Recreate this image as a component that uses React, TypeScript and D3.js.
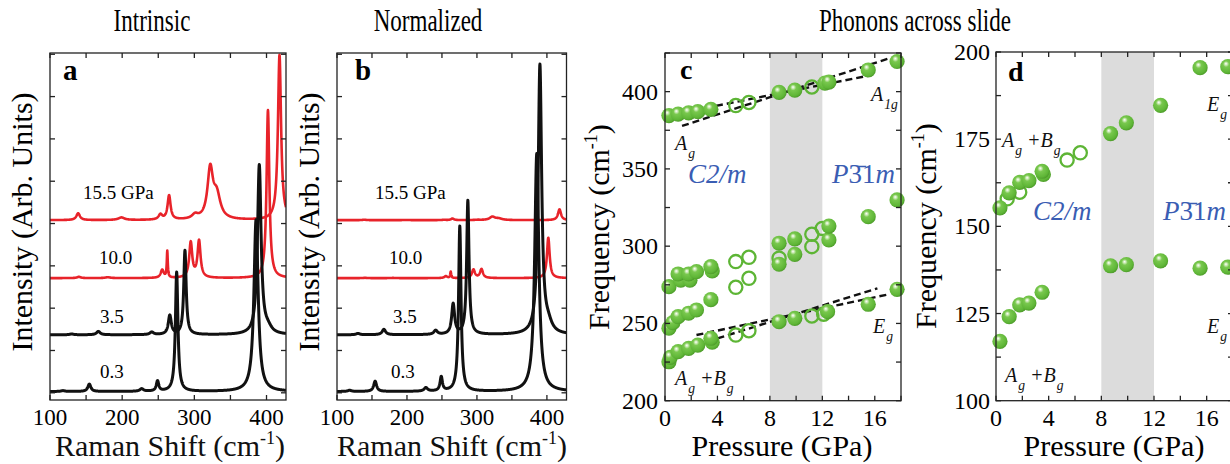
import React from "react";
import * as d3 from "d3";

// ---------------- DATA ----------------
// Raman spectra, read as peak lists: [centre (cm-1), height (arb.), half width (cm-1)]
const spectrumLabels = ["0.3", "3.5", "10.0", "15.5 GPa"];
const spectrumOffsets = [0.03, 1.37, 2.71, 4.08];
const normalizeFactors = [1.385, 1.59, 0.24, 0.065];
const peaks03 = [[118, 0.02, 3], [154.5, 0.175, 2.5], [227, 0.06, 3], [249, 0.24, 2], [275.5, 2.82, 2.1], [385.5, 4.06, 3.5]];
const peaks35 = [[130, 0.02, 3], [167, 0.08, 3], [241, 0.06, 3], [266, 0.45, 2.5], [287, 1.99, 2], [390, 4.0, 3], [402, 0.12, 6]];
const peaks100 = [[140, 0.03, 3], [180, 0.02, 4], [255.5, 0.19, 2.5], [262.5, 0.62, 0.8], [295, 0.83, 2.5], [306.5, 0.87, 2.5], [402, 3.97, 2.3]];
const peaks155 = [[139, 0.16, 3], [199, 0.06, 5], [253, 0.12, 3], [265, 0.57, 2.5], [301, 0.1, 5], [322, 1.15, 4.5], [331, 0.55, 6], [418, 3.9, 2.6]];
const spectrumPeaks = [peaks03, peaks35, peaks100, peaks155];
const ramanTicks = [100, 150, 200, 250, 300, 350, 400];
const ramanLabels = [100, 200, 300, 400];
const intensityTicks = [0, 1, 2, 3, 4, 5, 6, 7, 8];

// Panel c: [pressure (GPa), frequency (cm-1)]
const cA1gFilled = [[0.3, 384.5], [1.0, 385.5], [1.8, 386.3], [2.5, 387], [3.5, 388.5], [8.7, 399.5], [9.9, 401], [12.2, 405.5], [12.5, 406.2], [15.5, 414], [17.7, 419.5]];
const cA1gOpen = [[5.4, 391], [6.4, 393], [11.2, 403]];
const cMidFilled = [[0.3, 273.8], [1.2, 278], [1.9, 278], [1.0, 282], [1.8, 282], [2.4, 283.5], [3.6, 284], [3.5, 286.7], [8.7, 288.3], [8.7, 301.9], [9.9, 294.7], [9.9, 304.7], [12.5, 304], [12.5, 313], [15.5, 319.1], [17.7, 329.9]];
const cMidOpen = [[5.4, 273.4], [6.4, 279.2], [5.4, 290], [6.4, 292.8], [8.7, 292.2], [11.2, 299.7], [11.2, 307.7], [12.0, 311.5]];
const cLowFilled = [[0.3, 246.9], [0.6, 250.5], [1.0, 254.4], [1.8, 256.6], [2.4, 258.7], [3.5, 265.4]];
const cEgFilled = [[0.3, 225.2], [0.4, 228], [1.0, 231.7], [1.8, 233.9], [2.5, 236], [3.6, 237.9], [3.5, 240.4], [8.7, 251.1], [9.9, 253.3], [12.4, 257.6], [15.5, 262.4], [17.7, 272.1]];
const cEgOpen = [[5.4, 242.5], [6.4, 245.3], [11.2, 254.8], [12.1, 256]];
const cFitA1gC2m = [[-0.23, 383.9], [15.8, 410.8]];
const cFitA1gP31m = [[1.3, 377.8], [17.1, 421.6]];
const cFitEgC2m = [[2.4, 242.5], [17.1, 268.9]];
const cFitEgP31m = [[3.2, 238.2], [16.2, 272.7]];
const pressureTicks = [0, 2, 4, 6, 8, 10, 12, 14, 16, 18];
const pressureLabels = [0, 4, 8, 12, 16];
const cFreqTicks = [200, 225, 250, 275, 300, 325, 350, 375, 400, 425];
const cFreqLabels = [200, 250, 300, 350, 400];

// Panel d
const dUpperFilled = [[0.3, 155.3], [1.0, 159.6], [1.8, 162.6], [2.5, 163.1], [3.6, 164.9], [3.5, 165.8], [8.7, 176.6], [9.9, 179.7], [12.5, 184.7], [15.5, 195.5], [17.6, 195.8]];
const dUpperOpen = [[0.85, 157.9], [1.8, 159.8], [5.4, 169], [6.4, 171.1]];
const dLowerFilled = [[0.3, 117], [1.0, 124.1], [1.8, 127.5], [2.5, 128], [3.5, 131.1], [8.7, 138.7], [9.9, 139], [12.5, 140.1], [15.5, 138], [17.6, 138.3]];
const dFreqTicks = [100, 112.5, 125, 137.5, 150, 162.5, 175, 187.5, 200];
const dFreqLabels = [100, 125, 150, 175, 200];
const slideRegion = [8, 12];

// ---------------- STYLE ----------------
const FONT = "'Liberation Serif', 'Times New Roman', serif";
const BLACK = "#111";
const RED = "#e8232a";
const GREEN = "#5db535";
const BLUE = "#3a5db3";
const GREY = "#dcdcdc";

type Sc = d3.ScaleLinear<number, number>;

function Frame({ x, y, tx, ty }: { x: Sc; y: Sc; tx: number[]; ty: number[] }) {
  const [x0, x1] = x.range();
  const [y0, y1] = y.range();
  const L = 5;
  return (
    <g stroke="#222" strokeWidth={1.3} fill="none">
      <rect x={x0} y={y1} width={x1 - x0} height={y0 - y1} />
      {tx.map((v) => (
        <g key={"x" + v}>
          <line x1={x(v)} x2={x(v)} y1={y0} y2={y0 - L} />
          <line x1={x(v)} x2={x(v)} y1={y1} y2={y1 + L} />
        </g>
      ))}
      {ty.map((v) => (
        <g key={"y" + v}>
          <line x1={x0} x2={x0 + L} y1={y(v)} y2={y(v)} />
          <line x1={x1} x2={x1 - L} y1={y(v)} y2={y(v)} />
        </g>
      ))}
    </g>
  );
}

function Mode({ x, y, parts, size = 20 }: { x: number; y: number; parts: [string, string][]; size?: number }) {
  const out: any[] = [];
  parts.forEach(([main, sub], i) => {
    out.push(<tspan key={"m" + i} dy={i === 0 ? 0 : -8} fontSize={size}>{main}</tspan>);
    out.push(<tspan key={"s" + i} dy={8} dx={1} fontSize={size * 0.68}>{sub}</tspan>);
  });
  return (
    <text x={x} y={y} fontFamily={FONT} fontStyle="italic" fill="#111">{out}</text>
  );
}

function Phase({ x, y, kind }: { x: number; y: number; kind: "c2m" | "p31m" }) {
  if (kind === "c2m")
    return <text x={x} y={y} fontFamily={FONT} fontSize={27} fill={BLUE} fontStyle="italic">C2/m</text>;
  return (
    <text x={x} y={y} fontFamily={FONT} fontSize={27} fill={BLUE}>
      <tspan fontStyle="italic">P</tspan>
      <tspan>{"3\u03041"}</tspan>
      <tspan fontStyle="italic">m</tspan>
    </text>
  );
}

function Balls({ data, x, y }: { data: number[][]; x: Sc; y: Sc }) {
  return (
    <g>
      {data.map((d, i) => (
        <circle key={i} cx={x(d[0])} cy={y(d[1])} r={7.6} fill="url(#ball)" />
      ))}
    </g>
  );
}
function Rings({ data, x, y }: { data: number[][]; x: Sc; y: Sc }) {
  return (
    <g>
      {data.map((d, i) => (
        <circle key={i} cx={x(d[0])} cy={y(d[1])} r={6.6} fill="none" stroke={GREEN} strokeWidth={2.3} />
      ))}
    </g>
  );
}

function WaveTitle({ cx, y }: { cx: number; y: number }) {
  return (
    <text x={cx} y={y} fontFamily={FONT} fontSize={30} textAnchor="middle" fill="#111">
      Raman Shift (cm<tspan fontSize={18} dy={-12}>-1</tspan><tspan dy={12}>)</tspan>
    </text>
  );
}

function Heading({ cx, text }: { cx: number; text: string }) {
  return (
    <text transform={`translate(${cx},31) scale(0.72,1)`} fontFamily={FONT} fontSize={32} textAnchor="middle">{text}</text>
  );
}

export default function App() {
  const yAB = d3.scaleLinear().domain([-0.17, 8.03]).range([400, 53]);
  const xA = d3.scaleLinear().domain([100, 427]).range([50, 286]);
  const xB = d3.scaleLinear().domain([100, 428]).range([337, 566.5]);
  const xC = d3.scaleLinear().domain([0, 18]).range([665, 901]);
  const yC = d3.scaleLinear().domain([200, 425]).range([400.7, 53]);
  const xD = d3.scaleLinear().domain([0, 18]).range([996, 1233]);
  const yD = d3.scaleLinear().domain([100, 200]).range([400.7, 52]);

  const spectrum = (peaks: number[][], off: number, f: number, xmax: number) =>
    d3.range(100, xmax + 0.001, 0.25).map((w) => [
      w,
      off + f * d3.sum(peaks, (p) => (p[1] * p[2] * p[2]) / ((w - p[0]) ** 2 + p[2] * p[2])),
    ]);

  const lineA = d3.line<number[]>().x((d) => xA(d[0])).y((d) => yAB(d[1]));
  const lineB = d3.line<number[]>().x((d) => xB(d[0])).y((d) => yAB(d[1]));
  const lineC = d3.line<number[]>().x((d) => xC(d[0])).y((d) => yC(d[1]));

  const order = [3, 2, 1, 0];
  const colorOf = (i: number) => (i >= 2 ? RED : BLACK);
  const widthOf = (i: number) => (i >= 2 ? 2.6 : 3);

  const posA = [[100, 378], [100, 323], [99, 264], [83, 199]];
  const posB = [[391, 378], [393, 323], [389, 264], [375, 199]];
  const tickY = 425;
  const titleY = 456;

  return (
    <svg width={1230} height={464} style={{ position: "absolute", left: 0, top: 0, background: "#fff" }}>
      <defs>
        <radialGradient id="ball" cx="0.42" cy="0.4" r="0.62" fx="0.38" fy="0.3">
          <stop offset="0" stopColor="#ffffff" />
          <stop offset="0.14" stopColor="#cbeab5" />
          <stop offset="0.32" stopColor="#79c84e" />
          <stop offset="0.8" stopColor="#5fb637" />
          <stop offset="1" stopColor="#4c9a29" />
        </radialGradient>
        <clipPath id="clipA"><rect x={50} y={53} width={236} height={347} /></clipPath>
        <clipPath id="clipB"><rect x={337} y={53} width={229.5} height={347} /></clipPath>
      </defs>

      <Heading cx={152} text="Intrinsic" />
      <Heading cx={428} text="Normalized" />
      <Heading cx={915} text="Phonons across slide" />

      {/* ---------- panel a ---------- */}
      <g clipPath="url(#clipA)">
        {order.map((i) => (
          <path key={i} d={lineA(spectrum(spectrumPeaks[i], spectrumOffsets[i], 1, 427)) || ""} fill="none"
            stroke={colorOf(i)} strokeWidth={widthOf(i)} strokeLinejoin="round" />
        ))}
      </g>
      <Frame x={xA} y={yAB} tx={ramanTicks} ty={intensityTicks} />
      {ramanLabels.map((v) => (
        <text key={v} x={xA(v)} y={tickY} fontFamily={FONT} fontSize={23} textAnchor="middle">{v}</text>
      ))}
      {spectrumLabels.map((t, i) => (
        <text key={t} x={posA[i][0]} y={posA[i][1]} fontFamily={FONT} fontSize={19}>{t}</text>
      ))}
      <text x={63} y={80} fontFamily={FONT} fontSize={29} fontWeight="bold">a</text>
      <text transform="translate(32,222) rotate(-90)" fontFamily={FONT} fontSize={30} textAnchor="middle">Intensity (Arb. Units)</text>
      <WaveTitle cx={170} y={titleY} />

      {/* ---------- panel b ---------- */}
      <g clipPath="url(#clipB)">
        {order.map((i) => (
          <path key={i} d={lineB(spectrum(spectrumPeaks[i], spectrumOffsets[i], normalizeFactors[i], 428)) || ""} fill="none"
            stroke={colorOf(i)} strokeWidth={widthOf(i)} strokeLinejoin="round" />
        ))}
      </g>
      <Frame x={xB} y={yAB} tx={ramanTicks} ty={intensityTicks} />
      {ramanLabels.map((v) => (
        <text key={v} x={xB(v)} y={tickY} fontFamily={FONT} fontSize={23} textAnchor="middle">{v}</text>
      ))}
      {spectrumLabels.map((t, i) => (
        <text key={t} x={posB[i][0]} y={posB[i][1]} fontFamily={FONT} fontSize={19}>{t}</text>
      ))}
      <text x={355} y={80} fontFamily={FONT} fontSize={29} fontWeight="bold">b</text>
      <text transform="translate(319,222) rotate(-90)" fontFamily={FONT} fontSize={30} textAnchor="middle">Intensity (Arb. Units)</text>
      <WaveTitle cx={452} y={titleY} />

      {/* ---------- panel c ---------- */}
      <rect x={xC(slideRegion[0])} y={53} width={xC(slideRegion[1]) - xC(slideRegion[0])} height={400.7 - 53} fill={GREY} />
      {[cFitA1gC2m, cFitA1gP31m, cFitEgC2m, cFitEgP31m].map((f, i) => (
        <path key={i} d={lineC(f) || ""} stroke="#111" strokeWidth={2.4} strokeDasharray="7 4" fill="none" />
      ))}
      <Rings data={[...cA1gOpen, ...cMidOpen, ...cEgOpen]} x={xC} y={yC} />
      <Balls data={[...cA1gFilled, ...cMidFilled, ...cLowFilled, ...cEgFilled]} x={xC} y={yC} />
      <Frame x={xC} y={yC} tx={pressureTicks} ty={cFreqTicks} />
      {pressureLabels.map((v) => (
        <text key={v} x={xC(v)} y={tickY + 1} fontFamily={FONT} fontSize={24} textAnchor="middle">{v}</text>
      ))}
      {cFreqLabels.map((v) => (
        <text key={v} x={658} y={yC(v) + 8} fontFamily={FONT} fontSize={24} textAnchor="end">{v}</text>
      ))}
      <text x={680} y={79} fontFamily={FONT} fontSize={28} fontWeight="bold">c</text>
      <Mode x={871} y={101} parts={[["A", "1g"]]} />
      <Mode x={675} y={150} parts={[["A", "g"]]} />
      <Phase x={688} y={183} kind="c2m" />
      <Phase x={832} y={183} kind="p31m" />
      <Mode x={873} y={333} parts={[["E", "g"]]} />
      <Mode x={675} y={385} parts={[["A", "g"], [" +B", "g"]]} />
      <text transform="translate(609,227) rotate(-90)" fontFamily={FONT} fontSize={30} textAnchor="middle">
        Frequency (cm<tspan fontSize={18} dy={-12}>-1</tspan><tspan dy={12}>)</tspan>
      </text>
      <text x={782} y={titleY} fontFamily={FONT} fontSize={30} textAnchor="middle">Pressure (GPa)</text>

      {/* ---------- panel d ---------- */}
      <rect x={xD(slideRegion[0])} y={52} width={xD(slideRegion[1]) - xD(slideRegion[0])} height={400.7 - 52} fill={GREY} />
      <Rings data={dUpperOpen} x={xD} y={yD} />
      <Balls data={[...dUpperFilled, ...dLowerFilled]} x={xD} y={yD} />
      <Frame x={xD} y={yD} tx={pressureTicks} ty={dFreqTicks} />
      {pressureLabels.map((v) => (
        <text key={v} x={xD(v)} y={tickY + 1} fontFamily={FONT} fontSize={24} textAnchor="middle">{v}</text>
      ))}
      {dFreqLabels.map((v) => (
        <text key={v} x={990} y={yD(v) + 8} fontFamily={FONT} fontSize={24} textAnchor="end">{v}</text>
      ))}
      <text x={1008} y={81} fontFamily={FONT} fontSize={28} fontWeight="bold">d</text>
      <Mode x={1207} y={111} parts={[["E", "g"]]} />
      <Mode x={1002} y={147} parts={[["A", "g"], [" +B", "g"]]} />
      <Phase x={1033} y={220} kind="c2m" />
      <Phase x={1163} y={220} kind="p31m" />
      <Mode x={1207} y={333} parts={[["E", "g"]]} />
      <Mode x={1005} y={382} parts={[["A", "g"], [" +B", "g"]]} />
      <text transform="translate(936,226) rotate(-90)" fontFamily={FONT} fontSize={30} textAnchor="middle">
        Frequency (cm<tspan fontSize={18} dy={-12}>-1</tspan><tspan dy={12}>)</tspan>
      </text>
      <text x={1114} y={titleY} fontFamily={FONT} fontSize={30} textAnchor="middle">Pressure (GPa)</text>
    </svg>
  );
}
